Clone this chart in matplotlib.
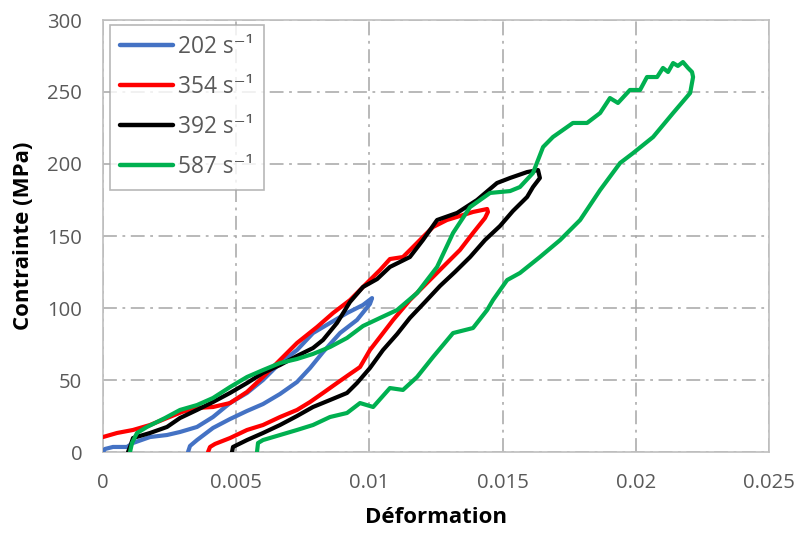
import numpy as np
import matplotlib
matplotlib.use("Agg")
import matplotlib.pyplot as plt

plt.rcParams['font.family'] = ['Open Sans', 'DejaVu Sans']
plt.rcParams['lines.scale_dashes'] = False

# ---- data (strain in units of 1e-3, stress in MPa) ----
labels = ["202 s\u207b\u00b9", "354 s\u207b\u00b9", "392 s\u207b\u00b9", "587 s\u207b\u00b9"]
colors = ["#4472C4", "#FF0000", "#000000", "#00B050"]

blue_strain = [0.000, 0.075, 0.375, 0.901, 1.126, 1.764, 2.403, 2.891, 3.529, 4.129, 4.768,
               5.406, 6.006, 6.645, 7.283, 7.883, 8.522, 9.160, 9.760, 10.10,
               10.02, 9.535, 8.897, 8.259, 7.771, 7.283, 6.645, 6.006, 5.406, 4.768,
               4.129, 3.529, 3.266, 3.191]
blue_stress = [0.0, 2.1, 3.5, 3.5, 6.25, 10.4, 11.8, 13.9, 17.4, 24.3, 34.0,
               41.0, 50.0, 61.8, 70.8, 82.6, 89.6, 96.5, 102.1, 106.9,
               102.8, 91.7, 82.6, 69.4, 58.3, 48.6, 40.3, 33.3, 28.5, 22.9,
               16.7, 8.3, 4.2, 0.0]

red_strain = [0.000, 0.526, 1.126, 1.764, 2.403, 2.966, 3.529, 4.129, 4.768, 5.406, 6.006,
              6.645, 7.283, 8.034, 8.634, 9.272, 9.911, 10.40, 10.77, 11.26, 11.64,
              12.01, 12.39, 12.91, 13.40, 13.89, 14.42,
              14.45, 14.34, 13.89, 13.40, 12.76, 12.16, 11.52, 10.89, 10.40, 10.02,
              9.648, 9.272, 8.784, 8.259, 7.771, 7.283, 6.645, 6.006, 5.406, 4.768,
              4.205, 4.017, 3.942]
red_stress = [10.4, 13.2, 15.3, 18.75, 23.6, 27.8, 30.6, 31.25, 34.0, 41.7, 52.1,
              63.9, 75.7, 86.8, 96.5, 105.5, 117.4, 126.4, 134.0, 135.4, 142.4,
              149.3, 156.25, 161.1, 163.9, 166.7, 168.75,
              166.7, 162.5, 152.1, 140.3, 128.5, 117.4, 105.5, 91.7, 79.9, 70.8,
              59.0, 54.2, 47.9, 41.0, 34.7, 29.2, 24.3, 18.75, 15.3, 9.7,
              5.6, 3.5, 0.0]

black_strain = [0.939, 1.014, 1.126, 1.764, 2.403, 2.891, 3.529, 4.129, 4.768, 5.406, 6.006,
                6.645, 7.283, 7.883, 8.259, 8.784, 9.272, 9.760, 10.29, 10.77, 11.52,
                12.01, 12.54, 13.29, 14.04, 14.79, 15.28, 15.92, 16.33,
                16.40, 16.14, 15.92, 15.39, 14.90, 14.34, 13.78, 13.21, 12.65, 12.09,
                11.52, 11.04, 10.51, 10.02, 9.535, 9.160, 8.522, 7.883, 7.283, 6.645,
                6.006, 5.406, 4.880, 4.843]
black_stress = [0.0, 3.5, 9.7, 13.2, 17.4, 23.6, 29.2, 34.7, 41.0, 47.9, 54.9,
                60.4, 66.7, 72.2, 77.8, 89.6, 104.2, 114.6, 120.1, 128.5, 135.4,
                147.2, 161.1, 166.0, 175.0, 186.8, 190.3, 194.4, 195.8,
                190.3, 184.0, 177.1, 167.4, 156.9, 147.2, 135.4, 125.0, 115.3, 104.2,
                93.1, 81.9, 70.8, 58.3, 47.9, 41.0, 36.1, 31.25, 25.0, 18.75,
                13.2, 8.3, 3.5, 0.0]

green_strain = [1.014, 1.089, 1.276, 1.652, 2.328, 2.891, 3.529, 4.129, 4.768, 5.406, 6.006,
                6.645, 7.283, 7.883, 8.522, 9.160, 9.760, 10.40, 11.04, 11.79, 12.54,
                13.14, 13.78, 14.53, 15.28, 15.65, 16.14, 16.52, 16.89, 17.64, 18.17,
                18.66, 19.03, 19.33, 19.78, 20.16, 20.42, 20.80, 21.02, 21.21, 21.40,
                21.58, 21.77, 21.96, 22.11,
                22.15, 22.04, 21.40, 20.65, 19.90, 19.41, 18.66, 17.91, 17.16, 16.40,
                15.65, 15.17, 14.64, 14.42, 13.89, 13.14, 12.39, 11.79, 11.26, 10.77,
                10.14, 9.648, 9.160, 8.522, 7.883, 7.283, 6.645, 6.006, 5.819, 5.781]
green_stress = [0.0, 6.25, 13.2, 17.4, 23.6, 29.2, 32.6, 37.5, 45.1, 52.1, 56.9,
                61.8, 64.6, 68.1, 72.9, 79.2, 87.5, 93.1, 98.6, 110.4, 128.5,
                152.1, 170.1, 179.9, 181.2, 184.0, 193.75, 211.8, 218.75, 228.5, 228.5,
                235.4, 245.8, 242.4, 251.4, 251.4, 260.4, 260.4, 266.7, 263.9, 270.1,
                268.1, 270.8, 266.7, 263.9,
                260.4, 249.3, 235.4, 218.75, 207.6, 200.7, 181.9, 161.1, 147.2, 135.4,
                124.3, 119.4, 105.5, 98.6, 86.1, 82.6, 66.0, 52.1, 43.1, 44.4,
                31.25, 34.0, 27.1, 24.3, 18.75, 15.3, 11.8, 8.3, 6.25, 0.0]

x_ticks = [0, 0.005, 0.01, 0.015, 0.02, 0.025]
x_tick_labels = ["0", "0.005", "0.01", "0.015", "0.02", "0.025"]
y_ticks = [0, 50, 100, 150, 200, 250, 300]

series = [(blue_strain, blue_stress), (red_strain, red_stress),
          (black_strain, black_stress), (green_strain, green_stress)]

# ---- figure ----
fig = plt.figure(figsize=(7.95, 5.36), dpi=100)
ax = fig.add_axes([103 / 795, 1 - 452 / 536, 666 / 795, 432 / 536])

for (sx, sy), lab, col in zip(series, labels, colors):
    ax.plot(np.array(sx) * 1e-3, sy, color=col, lw=3.0, label=lab,
            solid_joinstyle='round', solid_capstyle='round', zorder=3)

ax.set_xlim(0, 0.025)
ax.set_ylim(0, 300)
ax.set_xticks(x_ticks)
ax.set_xticklabels(x_tick_labels)
ax.set_yticks(y_ticks)
ax.tick_params(length=0, labelsize=14.6, colors='#595959', pad=15)

grid_col = '#A6A6A6'
ax.grid(True, color=grid_col, lw=1.1, linestyle=(0, (10, 4, 2, 4)), zorder=1)
for s in ax.spines.values():
    s.set_color('#BFBFBF')
    s.set_linewidth(1.2)

ax.set_xlabel("Déformation", fontsize=16, fontweight='bold', color='black')
ax.set_ylabel("Contrainte (MPa)", fontsize=16, fontweight='bold', color='black')
ax.xaxis.set_label_coords(0.5, -0.128)
ax.yaxis.set_label_coords(-0.103, 0.5)

leg = ax.legend(loc='upper left', bbox_to_anchor=(0.0105, 0.988), borderaxespad=0,
                fontsize=16.4, frameon=True, fancybox=False, handlelength=2.3,
                handletextpad=0.25, labelspacing=0.7, borderpad=0.45)
leg.get_frame().set_edgecolor('#A6A6A6')
leg.get_frame().set_linewidth(1.2)
for t in leg.get_texts():
    t.set_color('#595959')
for l in leg.get_lines():
    l.set_linewidth(3.2)

fig.savefig("out.png", dpi=100)
